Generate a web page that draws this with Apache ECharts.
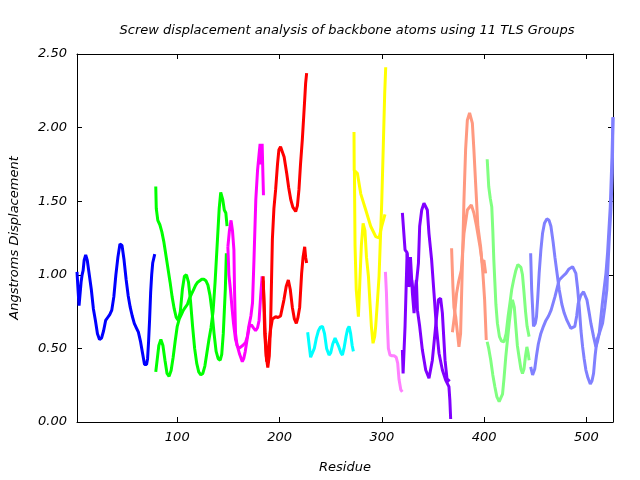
<!DOCTYPE html>
<html>
<head>
<meta charset="utf-8">
<script src="https://cdn.jsdelivr.net/npm/echarts@6/dist/echarts.min.js"></script>
<style>html,body{margin:0;padding:0;background:#fff}#c{width:640px;height:480px}</style>
</head>
<body>
<div id="c"></div>
<script>
const xTicks = [100, 200, 300, 400, 500];
const yTicks = [0, 0.5, 1.0, 1.5, 2.0, 2.5];

const g1a = [[2,1.02],[3,0.9],[4,0.79],[5,0.8],[6,0.95],[7,1.0],[8,1.03],[9,1.1],[10.5,1.135],[12,1.1],[14,1.0],[16,0.9],[18,0.77],[20,0.69],[22,0.6],[24,0.56],[26,0.57],[28,0.62],[30,0.69],[32,0.71],[34,0.73],[36,0.76],[38,0.85],[40,1.0],[42,1.12],[44,1.21],[46,1.2],[48,1.1],[50,0.97],[52,0.86],[54,0.78],[56,0.72],[58,0.67],[60,0.64],[62,0.61],[64,0.55],[66,0.47],[68,0.39],[70,0.39],[71,0.43],[72,0.55],[73,0.7],[74,0.88],[75,1.0],[76,1.08],[78,1.14]];

const g2a = [[79,1.6],[79.5,1.45],[81,1.37],[83,1.34],[85,1.29],[87,1.22],[89,1.13],[91,1.04],[93,0.95],[95,0.85],[97,0.77],[99,0.71],[101,0.69],[103,0.75],[105,0.9],[107,0.99],[109,1.0],[111,0.95],[113,0.82],[115,0.65],[117,0.5],[119,0.4],[121,0.34],[123,0.32],[125,0.33],[127,0.38],[129,0.47],[131,0.56],[133,0.64],[135,0.75],[137,0.95],[139,1.2],[141,1.45],[142.5,1.56],[144.5,1.51],[146,1.44],[147.5,1.42],[148.7,1.33]];
const g2b = [[79,0.34],[80,0.4],[82,0.52],[84,0.56],[86,0.52],[88,0.42],[90,0.33],[92,0.31],[94,0.35],[96,0.44],[98,0.55],[100,0.65],[102,0.7],[104,0.73],[106,0.76],[108,0.78],[110,0.8],[112,0.84],[114,0.87],[116,0.9],[118,0.93],[120,0.95],[122,0.96],[124,0.97],[126,0.97],[128,0.96],[130,0.93],[132,0.86],[134,0.75],[136,0.6],[138,0.48],[140,0.43],[142,0.42],[143.5,0.46],[145,0.6],[146,0.75],[147,0.9],[148,1.146]];

const g3a = [[149.5,1.19],[151,1.3],[152.6,1.37],[154,1.3],[155.4,1.17],[156,0.9],[157,0.6],[158.5,0.52],[160.3,0.5],[162,0.5],[164,0.52],[166.8,0.54],[168.5,0.58],[170,0.65],[172,0.72],[173.6,0.81],[175,1.1],[176.8,1.51],[178.5,1.71],[180,1.82],[181,1.89],[182,1.75],[183,1.89],[183.8,1.67],[184.3,1.54]];
const g3b = [[149.5,1.19],[150.5,1.0],[152,0.9],[153.5,0.78],[155,0.67],[157,0.56],[159,0.51],[161,0.46],[163.6,0.41],[165,0.43],[166.5,0.48],[168.5,0.57],[170.5,0.65],[172.5,0.66],[174.5,0.64],[176.6,0.62],[178.5,0.64],[180,0.69],[181.5,0.85],[183,0.99]];

const g4a = [[184,0.96],[185,0.8],[186,0.6],[187,0.45],[188.5,0.37],[190,0.45],[191.3,0.67],[193,1.24],[194.5,1.45],[196.2,1.58],[198,1.75],[199.4,1.85],[201,1.87],[202.7,1.875],[204.5,1.8],[207,1.69],[209,1.59],[211,1.51],[213,1.46],[215.8,1.43],[217.5,1.47],[219,1.58],[220.5,1.75],[222.3,1.92],[223.5,2.06],[224.6,2.19],[225.5,2.3],[226.5,2.37]];
const g4b = [[184,0.99],[185.5,0.6],[187.4,0.41],[189,0.5],[191.3,0.63],[193,0.7],[196.2,0.715],[198.5,0.71],[201,0.72],[204.3,0.83],[206.5,0.92],[208.6,0.965],[210.5,0.9],[212.5,0.78],[214.5,0.7],[216.4,0.67],[218,0.71],[219.7,0.78],[221.6,1.01],[223,1.12],[224.6,1.19],[225.5,1.12],[226.5,1.08]];

const g5a = [[227.5,0.61],[229,0.52],[230.4,0.44],[232,0.45],[234,0.5],[236,0.57],[238,0.62],[240,0.645],[242,0.65],[244,0.6],[246,0.5],[248.4,0.455],[250,0.47],[252,0.53],[254.3,0.57],[256,0.56],[258,0.51],[260,0.47],[261.5,0.455],[263,0.5],[265,0.58],[266.5,0.63],[268,0.65],[269.5,0.6],[271,0.52],[272.2,0.48]];

const g6a = [[272.8,1.97],[273,1.71],[276.1,1.69],[279.4,1.55],[284.3,1.44],[289.1,1.33],[294,1.26],[297.3,1.25],[299.9,1.33],[303.1,1.41]];
const g6b = [[273.2,1.71],[273.8,1.2],[275,0.9],[277.1,0.715],[278.5,0.95],[280,1.2],[281.7,1.35],[283.5,1.3],[285,1.12],[286.9,0.99],[288.5,0.8],[289.8,0.65],[291.4,0.535],[293,0.58],[294,0.65],[295.5,0.8],[297.3,0.99],[299.9,1.49],[301.5,1.89],[302.8,2.23],[303.8,2.41]];

const g7a = [[303.5,1.02],[304.5,0.88],[305.4,0.67],[306.4,0.5],[308,0.455],[310,0.45],[312,0.45],[314,0.44],[315.5,0.4],[316.8,0.29],[318.5,0.22],[320,0.205]];

const g8a = [[320.1,1.42],[322.7,1.17],[324.7,1.15],[326.6,0.965],[328,1.12],[329.9,0.875],[331.5,0.74],[333.8,0.94],[335.8,1.08],[337,1.33],[339,1.44],[341.2,1.486],[343,1.48],[344.5,1.44],[346.1,1.28],[348.7,1.1],[351,0.875],[353.3,0.65],[355.9,0.467],[359.2,0.353],[362.4,0.285],[365.6,0.24],[366.5,0.15],[367.3,0.02]];
const g8b = [[320.1,0.49],[320.8,0.33],[322.7,0.65],[324.7,1.146],[326.6,0.92],[329.2,0.965],[331.5,0.83],[333.8,0.965],[334.8,0.76],[337,0.65],[339.6,0.49],[342.9,0.353],[346.1,0.297],[349.4,0.42],[352.6,0.65],[355.3,0.83],[357.5,0.84],[359.2,0.74],[361.8,0.42],[364,0.274],[366.3,0.29]];

const g9a = [[368.2,1.18],[369.5,0.92],[370.5,0.78],[372.2,0.715],[375.4,0.51],[377,0.6],[378.7,1.055],[380.3,1.51],[381.9,1.85],[383.6,2.05],[385.8,2.1],[388.5,2.03],[390,1.85],[391.7,1.62],[393.9,1.33],[396.6,1.19],[398.8,1.01],[400.5,0.83],[402.1,0.557]];
const g9b = [[369,0.61],[371,0.72],[373.1,0.875],[375,0.95],[377.7,1.03],[380.3,1.28],[383.6,1.44],[387.5,1.475],[390,1.42],[392.6,1.33],[396,1.19],[398.2,1.08],[399.8,1.1],[401.5,1.01]];

const g10a = [[403,1.785],[404.5,1.6],[406,1.52],[407.5,1.46],[408.5,1.3],[409.5,1.1],[410.5,0.95],[411.5,0.8],[413,0.67],[415,0.58],[417,0.55],[419.5,0.545],[421.5,0.6],[423.5,0.72],[425.5,0.82],[427,0.9],[429,0.97],[431,1.03],[433,1.07],[434.5,1.08],[436,1.05],[437.5,1.0],[439,0.88],[440.5,0.75],[442,0.65],[444,0.58]];
const g10b = [[403,0.545],[404.5,0.5],[406.5,0.42],[408.5,0.32],[410.5,0.24],[412.5,0.17],[414.7,0.138],[416.5,0.15],[418,0.19],[419.5,0.3],[421.2,0.444],[423,0.57],[424.5,0.67],[426,0.76],[427.7,0.83],[429.5,0.78],[431,0.65],[432.5,0.52],[434.2,0.44],[436,0.36],[437.5,0.33],[439,0.36],[440.5,0.45],[441.8,0.51],[443,0.47],[444,0.42]];

const g11a = [[445.5,1.146],[446.5,0.9],[448.3,0.65],[450,0.67],[451.2,0.715],[452.5,0.85],[453.8,1.01],[455.5,1.17],[457.1,1.28],[459,1.35],[461.3,1.38],[463.5,1.37],[465.3,1.33],[467.5,1.22],[469.2,1.12],[471.5,1.0],[473.4,0.9],[476,0.8],[478.3,0.74],[481,0.69],[484.8,0.636],[488.7,0.65],[490.5,0.72],[492,0.806],[494.5,0.86],[497.2,0.885],[500.5,0.83],[502.5,0.75],[504.4,0.67],[507,0.58],[509.3,0.51],[511,0.55],[512.5,0.6],[515.5,0.8],[519.1,1.01],[520.7,1.15],[523.3,1.46],[525,1.8],[526,2.07]];
const g11b = [[445.5,0.375],[447.4,0.32],[449.5,0.36],[451.2,0.45],[453,0.53],[455.4,0.6],[458,0.65],[460.4,0.69],[463,0.72],[465.5,0.76],[469.2,0.85],[473.4,0.965],[477,0.99],[480,1.01],[483,1.04],[486.5,1.055],[489.7,1.01],[491.5,0.9],[493,0.78],[494.7,0.62],[496.3,0.51],[497.8,0.43],[499.5,0.353],[501.5,0.3],[503.8,0.258],[505.5,0.28],[507,0.33],[508.5,0.45],[510.3,0.557],[513,0.61],[515.8,0.67],[518,0.78],[520,0.9],[522.3,1.24],[524,1.45],[525.3,1.69],[526,2.07]];

const groups = [
  [g1a, '#0000ff'],
  [g2a, '#00ff00'], [g2b, '#00ff00'],
  [g3a, '#ff00ff'], [g3b, '#ff00ff'],
  [g4a, '#ff0000'], [g4b, '#ff0000'],
  [g5a, '#00ffff'],
  [g6a, '#ffff00'], [g6b, '#ffff00'],
  [g7a, '#ff80ff'],
  [g8a, '#8000ff'], [g8b, '#8000ff'],
  [g9a, '#ff9980'], [g9b, '#ff9980'],
  [g10a, '#80ff80'], [g10b, '#80ff80'],
  [g11a, '#8080ff'], [g11b, '#8080ff']
];

const FONT = 'DejaVu Sans';
const txt = {fontFamily: FONT, fontStyle: 'italic', fontSize: 13, color: '#000'};
const line = {show: true, onZero: false, lineStyle: {color: '#000', width: 1}};
const tick = {show: true, inside: true, length: 5, lineStyle: {color: '#000', width: 1}};

const chart = echarts.init(document.getElementById('c'), null, {renderer: 'canvas'});
chart.setOption({
  animation: false,
  backgroundColor: '#fff',
  title: {
    text: 'Screw displacement analysis of backbone atoms using 11 TLS Groups',
    left: 342, top: 19, textAlign: 'center',
    textStyle: Object.assign({}, txt, {fontWeight: 'normal', fontSize: 13})
  },
  grid: {left: 76, right: 27, top: 54, bottom: 58, containLabel: false},
  xAxis: [
    {type: 'value', min: 2, max: 526, position: 'bottom',
     name: 'Residue', nameLocation: 'middle', nameGap: 39, nameTextStyle: txt,
     axisLine: line,
     axisTick: Object.assign({customValues: xTicks}, tick),
     axisLabel: Object.assign({customValues: xTicks, margin: 9}, txt),
     splitLine: {show: false}},
    {type: 'value', min: 2, max: 526, position: 'top',
     axisLine: line,
     axisTick: Object.assign({customValues: xTicks}, tick),
     axisLabel: {show: false}, splitLine: {show: false}}
  ],
  yAxis: [
    {type: 'value', min: 0, max: 2.5, interval: 0.5, position: 'left',
     name: 'Angstroms Displacement', nameLocation: 'middle', nameGap: 56, nameTextStyle: txt,
     axisLine: line, axisTick: tick,
     axisLabel: Object.assign({margin: 10, formatter: v => v.toFixed(2)}, txt),
     splitLine: {show: false}},
    {type: 'value', min: 0, max: 2.5, interval: 0.5, position: 'right',
     axisLine: line, axisTick: tick, axisLabel: {show: false}, splitLine: {show: false}}
  ],
  series: groups.map(([d, c]) => ({
    type: 'line', data: d, xAxisIndex: 0, yAxisIndex: 0,
    showSymbol: false, symbol: 'none', silent: true,
    lineStyle: {color: c, width: 3}, itemStyle: {color: c},
    emphasis: {disabled: true}
  }))
});
</script>
</body>
</html>
